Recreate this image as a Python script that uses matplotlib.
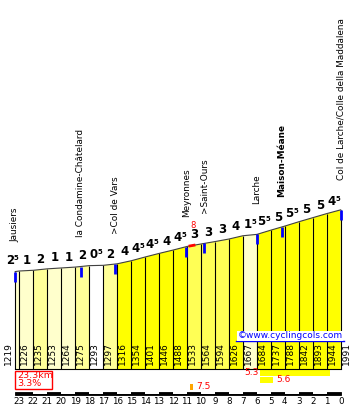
import numpy as np
import matplotlib.pyplot as plt
from matplotlib.patches import Rectangle

# profile: km to go and altitude at each boundary
km = [23.3, 23, 22, 21, 20, 19, 18, 17, 16, 15, 14, 13, 12, 11, 10, 9, 8, 7, 6, 5, 4, 3, 2, 1, 0]
elev = [1219, 1226, 1235, 1253, 1264, 1275, 1293, 1297, 1316, 1354, 1401, 1446, 1488,
        1533, 1564, 1594, 1626, 1667, 1684, 1737, 1788, 1842, 1893, 1944, 1991]
grade = [2.5, 1, 2, 1, 1, 2, 0.5, 2, 4, 4.5, 4.5, 4, 4.5, 3, 3, 3, 4, 1.5, 5.5, 5, 5.5, 5, 5, 4.5]

places = ['Jausiers', 'la Condamine-Châtelard', '>Col de Vars', 'Meyronnes', '>Saint-Ours',
          'Larche', 'Maison-Méane', 'Col de Larche/Colle della Maddalena']
place_km = [23.3, 18.6, 16.15, 11.05, 9.75, 6.0, 4.2, 0.0]
place_bold = [False, False, False, False, False, False, True, False]

# steepest parts: start km, end km, percentage, colour
steep_start = [5.78, 5.78, 10.79]
steep_end = [0.77, 4.85, 10.57]
steep_pct = ['5.3', '5.6', '7.5']
steep_col = ['#FFFF00', '#FFFF00', '#FFA500']

total_km = '23.3km'
avg_pct = '3.3%'

PX_KM = 13.97   # pixels per km
M_PX = 12.51    # metres per pixel
X0 = 340.7      # pixel column of km 0
BASE = 369      # pixel row of the baseline


def ypx(p):
    return (BASE - p) * M_PX


def colour(g):
    if g < 1:
        return '#FFFFFF'
    if g < 2:
        return '#FFFFCC'
    if g < 3:
        return '#FFFF99'
    if g < 4:
        return '#FFFF55'
    return '#FFFF00'


fig = plt.figure(figsize=(3.56, 4.08), dpi=100)
ax = fig.add_axes([0, 0, 1, 1])
ax.axis('off')
ax.set_xlim(X0 / PX_KM, (X0 - 356) / PX_KM)
ax.set_ylim(-(408 - BASE) * M_PX, BASE * M_PX)

km_a = np.array(km)
el_a = np.array(elev)

for i, g in enumerate(grade):
    ax.fill([km[i], km[i], km[i + 1], km[i + 1]], [0, elev[i], elev[i + 1], 0],
            color=colour(g if i > 0 else 1.5), lw=0)
ax.vlines(km, 0, elev, color='black', lw=0.8)
ax.plot(km, elev, color='#404040', lw=0.8)
ax.plot([km[0], km[-1]], [0, 0], color='black', lw=0.8)

# gradient labels
for i, g in enumerate(grade):
    xm = (km[i] + km[i + 1]) / 2
    ym = (elev[i] + elev[i + 1]) / 2
    dx = -5 if i == 0 else 0
    if g % 1:
        ax.annotate(str(int(g)), (xm, ym), xytext=(dx + 1.5, 4), textcoords='offset pixels',
                    ha='right', va='bottom', fontsize=8.5, fontweight='bold')
        ax.annotate('5', (xm, ym), xytext=(dx + 1.5, 10), textcoords='offset pixels',
                    ha='left', va='bottom', fontsize=5, fontweight='bold')
    else:
        ax.annotate(str(int(g)), (xm, ym), xytext=(dx, 4), textcoords='offset pixels',
                    ha='center', va='bottom', fontsize=8.5, fontweight='bold')

# altitude labels
for i, (k, e) in enumerate(zip(km, elev)):
    if i == 0:
        ax.annotate(str(e), (k, 0), xytext=(-2, 4), textcoords='offset pixels',
                    rotation=90, ha='right', va='bottom', fontsize=6.5)
    else:
        ax.annotate(str(e), (k, 0), xytext=(1, 4), textcoords='offset pixels',
                    rotation=90, ha='left', va='bottom', fontsize=6.5)

# places
for name, k, b in zip(places, place_km, place_bold):
    e = np.interp(k, km_a[::-1], el_a[::-1])
    ax.plot([k, k], [e, e - 10 * M_PX], color='#0000FF', lw=2, solid_capstyle='butt')
    ax.annotate(name, (k, e), xytext=(0, 30), textcoords='offset pixels', rotation=90,
                ha='center', va='bottom', fontsize=6.4,
                fontweight='bold' if b else 'normal')

# steepest 100 m mark
ks = np.array([10.79, 10.5])
ax.plot(ks, np.interp(ks, km_a[::-1], el_a[::-1]), color='red', lw=2)
ax.annotate('8', (10.65, np.interp(10.65, km_a[::-1], el_a[::-1])), xytext=(1, 16),
            textcoords='offset pixels', ha='center', va='bottom', fontsize=6, color='red')

# link
ax.text(3.63, ypx(336), '©www.cyclingcols.com', ha='center', va='center', fontsize=6.5,
        color='#0000FF', bbox=dict(boxstyle='square,pad=0.1', fc='white', ec='none'))
ax.plot([(X0 - 236) / PX_KM, (X0 - 344) / PX_KM], [ypx(341), ypx(341)], color='#0000FF', lw=1)

# total length / average
ax.add_patch(Rectangle((km[0], ypx(389)), -(52 - 15.3) / PX_KM, 18 * M_PX,
                       fill=False, ec='red', lw=1))
ax.text((X0 - 17) / PX_KM, ypx(375.5), total_km, color='red', fontsize=6.8, va='center')
ax.text((X0 - 17) / PX_KM, ypx(384), avg_pct, color='red', fontsize=6.8, va='center')

# steepest parts bars
rows = [(369.5, 375.5), (377, 382.5), (384, 389.5)]
for (a, b), (t, btm), p, c, j in zip(zip(steep_start, steep_end), rows, steep_pct, steep_col, range(3)):
    ax.add_patch(Rectangle((a, ypx(btm)), b - a, (btm - t) * M_PX, color=c, lw=0))
    if j == 0:
        ax.text(a + 0.12, ypx((t + btm) / 2), p, color='red', fontsize=6.5, ha='right', va='center')
    else:
        ax.text(b - 0.25, ypx((t + btm) / 2), p, color='red', fontsize=6.5, ha='left', va='center')

# km scale
sb_y, sb_h = ypx(394.5), 3 * M_PX
ax.add_patch(Rectangle((km[0], sb_y), -km[0], sb_h, fc='black', ec='black', lw=0.6))
for k in range(23, 0, -1):
    if k % 2 == 0:
        ax.add_patch(Rectangle((k, sb_y + 0.6 * M_PX), -1, sb_h - 1.2 * M_PX, fc='white', lw=0))
for k in range(24):
    ax.text(k, ypx(401), str(k), ha='center', va='center', fontsize=6.3)

fig.savefig('out.png', dpi=100)
